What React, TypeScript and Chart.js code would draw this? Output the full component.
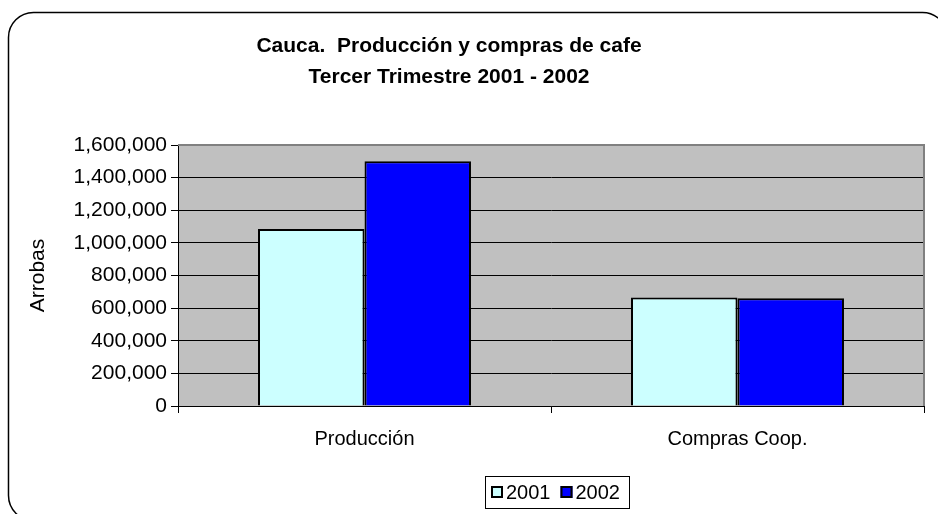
import React, { useEffect, useRef } from "react";
import { Chart, registerables } from "chart.js";

Chart.register(...registerables);

// ---- data ----
const categories = ["Producción", "Compras Coop."];
const seriesLabels = ["2001", "2002"];
const values2001 = [1085000, 665000];
const values2002 = [1500000, 660000];
const seriesColors = ["#CCFFFF", "#0000FF"];
const yMin = 0;
const yMax = 1600000;
const yStep = 200000;
const titleLines = ["Cauca.  Producción y compras de cafe", "Tercer Trimestre 2001 - 2002"];
const yAxisTitle = "Arrobas";

const FAMILY = "'Liberation Sans', Arial, Helvetica, sans-serif";

const framePlugin = {
  id: "excelFrame",
  beforeDraw(chart: any) {
    const { ctx, chartArea } = chart;
    ctx.save();
    ctx.fillStyle = "#ffffff";
    ctx.fillRect(0, 0, chart.width, chart.height);
    ctx.strokeStyle = "#000000";
    ctx.lineWidth = 1.5;
    ctx.beginPath();
    (ctx as any).roundRect(8.5, 12.5, 939, 508, 25);
    ctx.stroke();
    ctx.fillStyle = "#C0C0C0";
    ctx.fillRect(chartArea.left, chartArea.top, chartArea.right - chartArea.left, chartArea.bottom - chartArea.top);
    ctx.restore();
  },
  beforeDatasetsDraw(chart: any) {
    const { ctx, chartArea } = chart;
    ctx.save();
    ctx.strokeStyle = "#808080";
    ctx.lineWidth = 2;
    ctx.beginPath();
    ctx.moveTo(chartArea.left, chartArea.top);
    ctx.lineTo(chartArea.right, chartArea.top);
    ctx.lineTo(chartArea.right, chartArea.bottom);
    ctx.stroke();
    ctx.restore();
  },
};

const titlePlugin = {
  id: "excelTitle",
  afterDraw(chart: any) {
    const { ctx } = chart;
    ctx.save();
    ctx.fillStyle = "#000000";
    ctx.font = `bold 21px ${FAMILY}`;
    ctx.textAlign = "center";
    ctx.textBaseline = "alphabetic";
    const cx = 449;
    titleLines.forEach((line, i) => {
      ctx.fillText(line, cx, 52 + i * 31);
    });
    ctx.restore();
  },
};

const legendPlugin = {
  id: "excelLegend",
  afterDraw(chart: any) {
    const { ctx, chartArea } = chart;
    ctx.save();
    ctx.font = `20px ${FAMILY}`;
    const sq = 12;
    const gapText = 3;
    const gapItem = 10;
    const padL = 6;
    const padR = 9;
    const items = chart.data.datasets.map((d: any) => ({
      label: d.label as string,
      color: d.backgroundColor as string,
      w: ctx.measureText(d.label).width,
    }));
    let content = 0;
    items.forEach((it: any, i: number) => {
      content += sq + gapText + it.w + (i < items.length - 1 ? gapItem : 0);
    });
    const boxW = Math.round(padL + content + padR);
    const boxH = 32;
    const cx = (chartArea.left + chartArea.right) / 2 + 6;
    const left = Math.round(cx - boxW / 2);
    const top = Math.round(chartArea.bottom + 70);
    ctx.fillStyle = "#ffffff";
    ctx.fillRect(left, top, boxW, boxH);
    ctx.strokeStyle = "#000000";
    ctx.lineWidth = 1;
    ctx.strokeRect(left + 0.5, top + 0.5, boxW, boxH);
    let x = left + padL;
    const cy = top + boxH / 2;
    items.forEach((it: any) => {
      const sy = Math.round(cy - sq / 2);
      ctx.fillStyle = it.color;
      ctx.fillRect(x, sy, sq, sq);
      ctx.strokeStyle = "#000000";
      ctx.lineWidth = 2;
      ctx.strokeRect(x + 1, sy + 1, sq - 2, sq - 2);
      x += sq + gapText;
      ctx.fillStyle = "#000000";
      ctx.textAlign = "left";
      ctx.textBaseline = "middle";
      ctx.fillText(it.label, x, cy + 1);
      x += it.w + gapItem;
    });
    ctx.restore();
  },
};

export default function App() {
  const ref = useRef<HTMLCanvasElement>(null);

  useEffect(() => {
    if (!ref.current) return;
    const font = { family: FAMILY, size: 20 };
    const tickFont = { family: FAMILY, size: 21 };
    const chart = new Chart(ref.current, {
      type: "bar",
      data: {
        labels: categories,
        datasets: [
          {
            label: seriesLabels[0],
            data: values2001,
            backgroundColor: seriesColors[0],
            borderColor: "#000000",
            borderWidth: 2,
            barPercentage: 1,
            categoryPercentage: 0.571,
          },
          {
            label: seriesLabels[1],
            data: values2002,
            backgroundColor: seriesColors[1],
            borderColor: "#000000",
            borderWidth: 2,
            barPercentage: 1,
            categoryPercentage: 0.571,
          },
        ],
      },
      options: {
        animation: false,
        responsive: false,
        maintainAspectRatio: false,
        layout: { padding: { top: 145, right: 14, bottom: 48, left: 0 } },
        plugins: {
          legend: { display: false },
          title: { display: false },
          tooltip: { enabled: false },
        },
        scales: {
          x: {
            offset: true,
            grid: {
              display: true,
              drawOnChartArea: false,
              drawTicks: true,
              tickLength: 7,
              color: "#000000",
              offset: true,
            },
            border: { display: true, color: "#000000", width: 1 },
            ticks: { color: "#000000", font, padding: 14, maxRotation: 0, autoSkip: false },
            afterFit: (s: any) => {
              s.height = 60;
            },
          },
          y: {
            min: yMin,
            max: yMax,
            ticks: {
              stepSize: yStep,
              color: "#000000",
              font: tickFont,
              padding: 4,
              callback: (v: any) => Number(v).toLocaleString("en-US"),
            },
            grid: { color: "#000000", lineWidth: 1, tickLength: 7 },
            border: { display: true, color: "#000000", width: 1 },
            title: {
              display: true,
              text: yAxisTitle,
              color: "#000000",
              font: tickFont,
              padding: { top: 26, bottom: 0 },
            },
            afterFit: (s: any) => {
              s.width = 178;
            },
          },
        },
      },
      plugins: [framePlugin, titlePlugin, legendPlugin],
    } as any);
    return () => chart.destroy();
  }, []);

  return (
    <div style={{ position: "fixed", left: 0, top: 0, width: 938, height: 514, background: "#ffffff", overflow: "hidden" }}>
      <canvas ref={ref} width={938} height={514} style={{ display: "block", width: 938, height: 514 }} />
    </div>
  );
}
